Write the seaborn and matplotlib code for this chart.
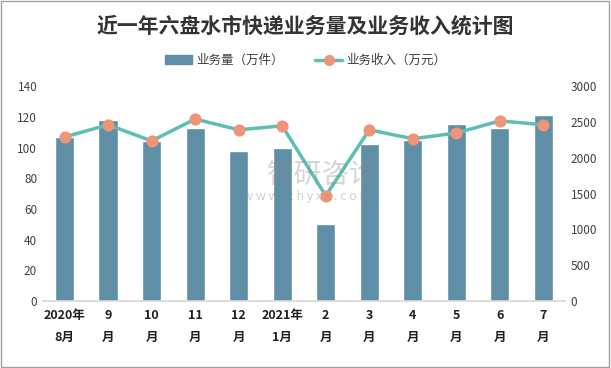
import matplotlib
matplotlib.use("Agg")
import matplotlib.pyplot as plt
import numpy as np
import pandas as pd
import seaborn as sns
from matplotlib.lines import Line2D
from matplotlib.patches import Patch

months = ["2020年\n8月", "9\n月", "10\n月", "11\n月", "12\n月", "2021年\n1月",
          "2\n月", "3\n月", "4\n月", "5\n月", "6\n月", "7\n月"]
volume = [107, 118, 104, 113, 98, 100, 50, 102, 105, 115, 113, 121]
revenue = [2290, 2460, 2235, 2540, 2390, 2445, 1470, 2390, 2265, 2345, 2515, 2460]

bar_color = "#5f8fa6"
line_color = "#5dbfb4"
marker_color = "#ef9479"

sns.set_theme(style="white")
plt.rcParams["font.family"] = ["Noto Sans CJK SC", "DejaVu Sans"]

df = pd.DataFrame({"month": months, "volume": volume, "revenue": revenue})
df["pos"] = np.arange(len(df))

fig = plt.figure(figsize=(6.11, 3.68), dpi=100)
ax = fig.add_axes([0.07, 0.182, 0.855, 0.584])

sns.barplot(data=df, x="month", y="volume", color=bar_color, width=0.44,
            saturation=1, ax=ax)
ax.set_ylim(0, 140)
ax.set_yticks(range(0, 141, 20))
ax.set_xlim(-0.5, len(df) - 0.5)
ax.set_xlabel("")
ax.set_ylabel("")

# watermark sits between the bars and the line
fig.text(0.527, 0.524, "智研咨询", ha="center", va="center", fontsize=20,
         color="#8a8a8a", alpha=0.35)
fig.text(0.503, 0.467, "w w w . c h y x x . c o m", ha="center", va="center",
         fontsize=9, color="#8a8a8a", alpha=0.4)

ax2 = ax.twinx()
sns.lineplot(data=df, x="pos", y="revenue", color=line_color, linewidth=2.5,
             marker="o", markersize=8, markerfacecolor=marker_color,
             markeredgecolor=marker_color, ax=ax2)
ax2.set_ylim(0, 3000)
ax2.set_yticks(range(0, 3001, 500))
ax2.set_xlim(-0.5, len(df) - 0.5)
ax2.set_ylabel("")
ax2.set_xlabel("")

for a in (ax, ax2):
    for s in a.spines.values():
        s.set_visible(False)
    a.tick_params(axis="y", length=0, labelsize=8.5, labelcolor="#404040", pad=4)
ax.spines["bottom"].set_visible(True)
ax.spines["bottom"].set_color("#d9d9d9")
ax.tick_params(axis="x", length=0, pad=6)
ax.set_xticks(range(len(df)))
ax.set_xticklabels(months, fontsize=9, fontweight="bold", color="#202020",
                   linespacing=1.9)

fig.text(0.5, 0.93, "近一年六盘水市快递业务量及业务收入统计图", ha="center",
         va="center", fontsize=15, fontweight="bold", color="#333333")

handles = [Patch(facecolor=bar_color, edgecolor=bar_color),
           Line2D([0], [0], color=line_color, lw=2.5, marker="o", markersize=7,
                  markerfacecolor=marker_color, markeredgecolor=marker_color)]
fig.legend(handles, ["业务量（万件）", "业务收入（万元）"], loc="center",
           bbox_to_anchor=(0.5, 0.835), ncol=2, frameon=False, fontsize=9,
           handlelength=2.2, columnspacing=2.5, handletextpad=0.3,
           labelcolor="#404040")

fig.patches.append(plt.Rectangle((0.002, 0.003), 0.995, 0.993, fill=False,
                                 edgecolor="#a0a0a0", lw=1,
                                 transform=fig.transFigure, figure=fig))

fig.savefig("out.png", dpi=100)
